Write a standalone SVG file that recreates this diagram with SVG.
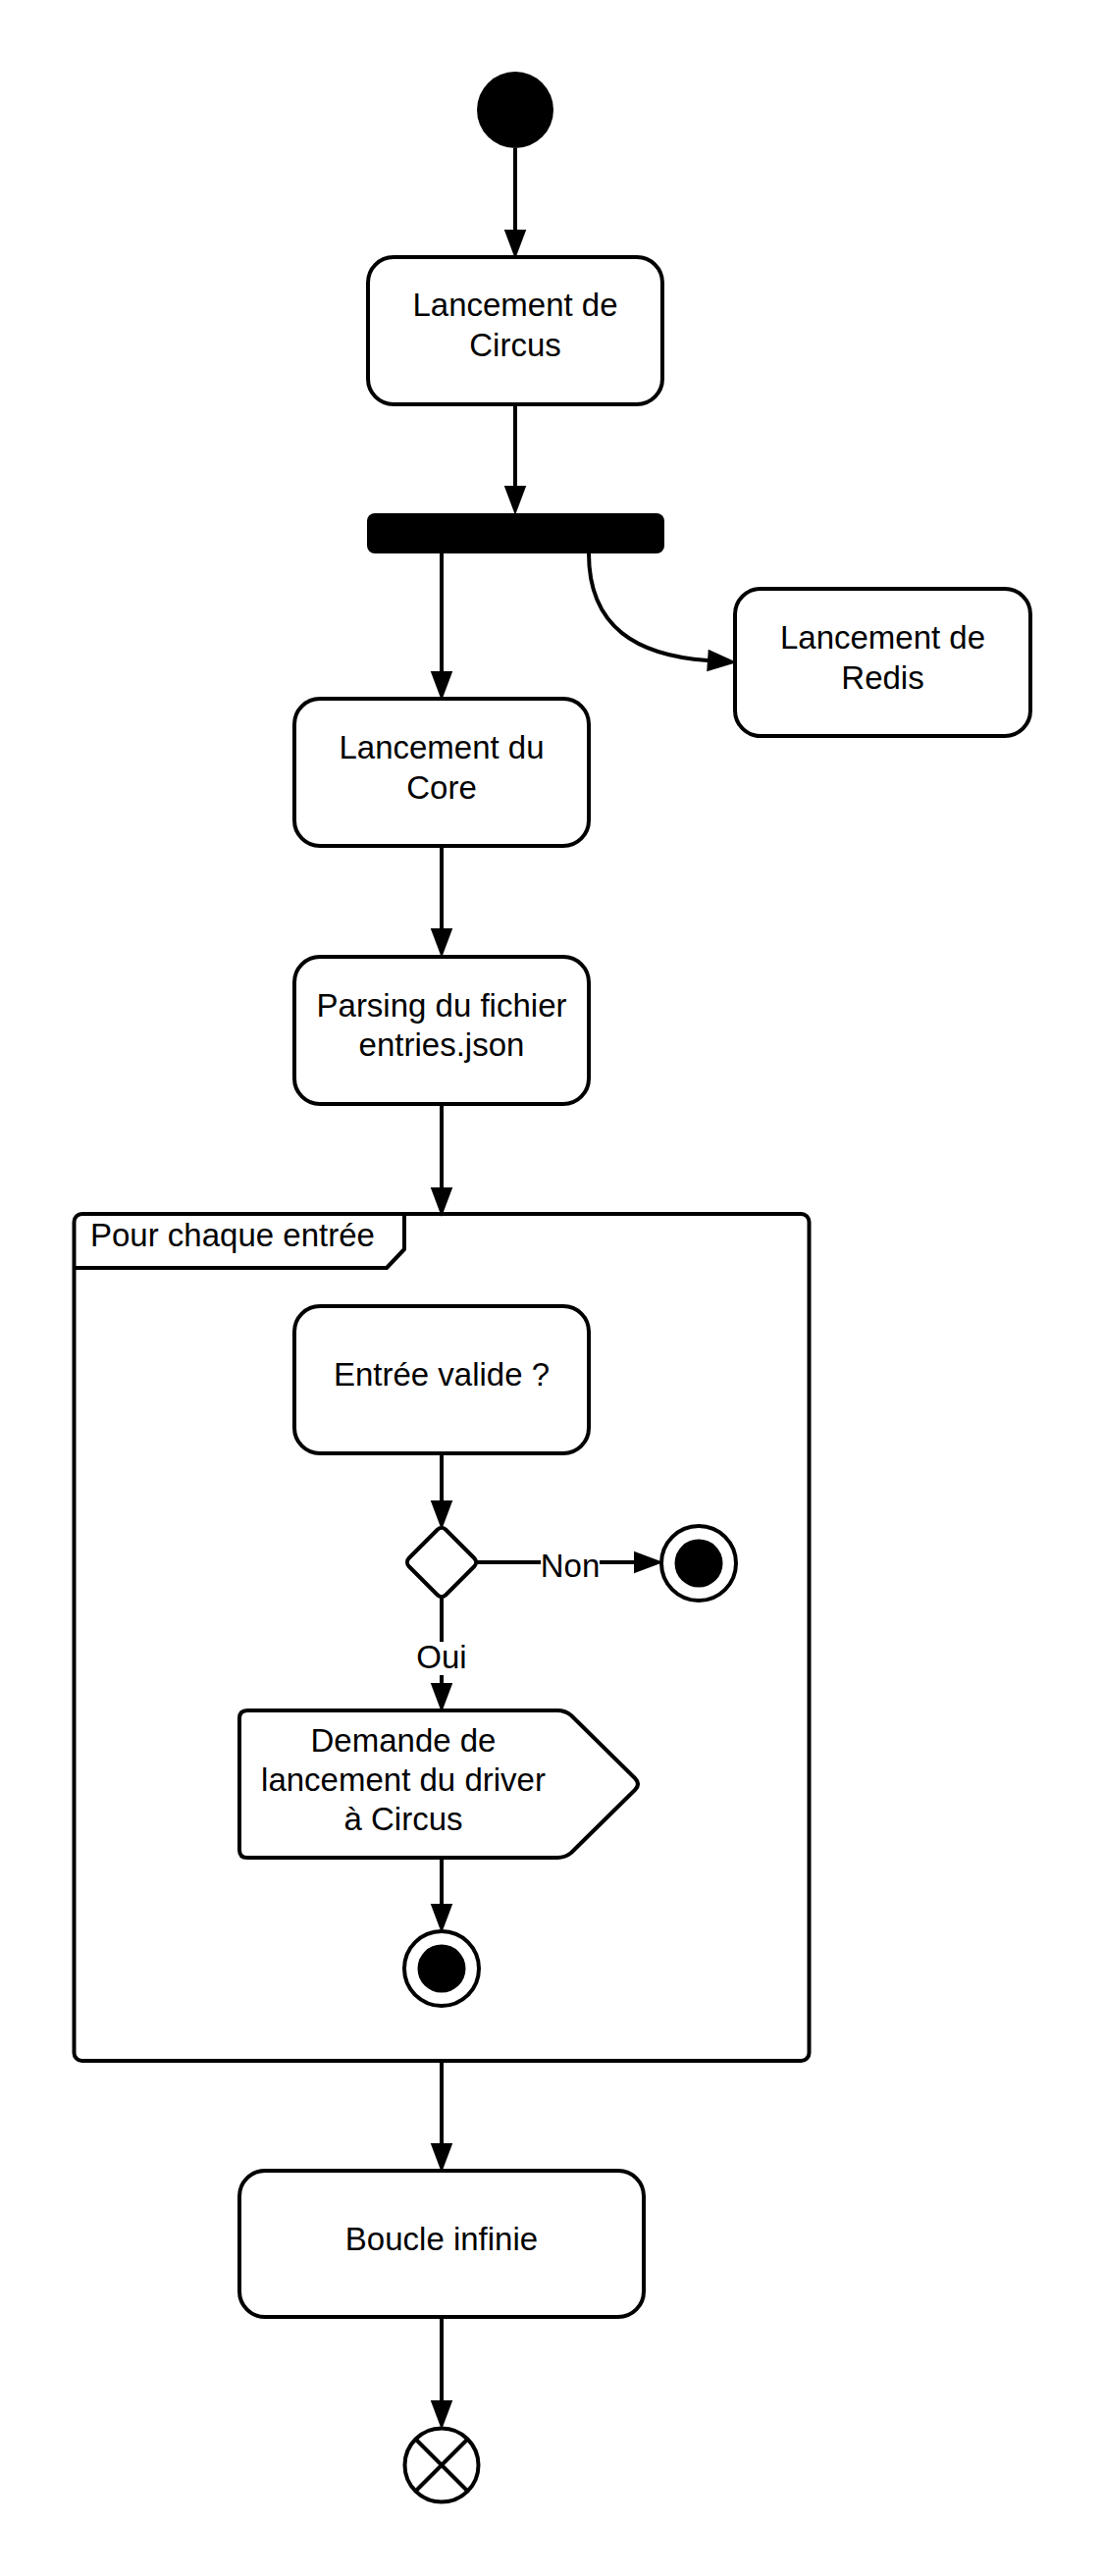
<svg xmlns="http://www.w3.org/2000/svg" width="1125" height="2625" viewBox="0 0 1125 2625">
<style>
  .box { fill: #ffffff; stroke: #000000; stroke-width: 4; }
  .lbl { font-family: "Liberation Sans", Arial, sans-serif; font-size: 33px; fill: #000000; text-anchor: middle; }
  .lblL { font-family: "Liberation Sans", Arial, sans-serif; font-size: 33px; fill: #000000; }
  .edge { fill: none; stroke: #000000; stroke-width: 4; marker-end: url(#arr); }
  .solid { fill: #000000; }
</style>
<defs>
  <marker id="arr" markerUnits="userSpaceOnUse" markerWidth="30" markerHeight="24" viewBox="0 0 28 22" refX="0" refY="11" orient="auto" overflow="visible">
    <path d="M0,0.5 L28,11 L0,21.5 Z" fill="#000000"/>
  </marker>
</defs>
<rect width="1125" height="2625" fill="#ffffff"/>

<g id="connectors">
  <path class="edge" d="M525,151 L525,234"/>
  <path class="edge" d="M525,412 L525,495"/>
  <path class="edge" d="M450,564 L450,684"/>
  <path class="edge" d="M600,564 C600,640 650,668 721,673"/>
  <path class="edge" d="M450,862 L450,946"/>
  <path class="edge" d="M450,1125 L450,1210"/>
  <path class="edge" d="M450,1481 L450,1529"/>
  <path class="edge" d="M485,1592 L646,1592"/>
  <path class="edge" d="M450,1627 L450,1715"/>
  <path class="edge" d="M450,1893 L450,1940"/>
  <path class="edge" d="M450,2100 L450,2184"/>
  <path class="edge" d="M450,2361 L450,2446"/>
  <rect x="551" y="1578" width="60" height="32" fill="#ffffff"/>
  <text class="lbl" x="581" y="1607">Non</text>
  <rect x="423" y="1673" width="54" height="34" fill="#ffffff"/>
  <text class="lbl" x="450" y="1700">Oui</text>
</g>

<g id="start">
  <circle class="solid" cx="525" cy="112" r="39"/>
</g>

<g id="circus">
  <rect class="box" x="375" y="262" width="300" height="150" rx="26"/>
  <text class="lbl" x="525" y="322">Lancement de</text>
  <text class="lbl" x="525" y="363">Circus</text>
</g>

<g id="fork">
  <rect class="solid" x="374" y="523" width="303" height="41" rx="8"/>
</g>

<g id="redis">
  <rect class="box" x="749" y="600" width="301" height="150" rx="26"/>
  <text class="lbl" x="899.5" y="661">Lancement de</text>
  <text class="lbl" x="899.5" y="702">Redis</text>
</g>

<g id="core">
  <rect class="box" x="300" y="712" width="300" height="150" rx="26"/>
  <text class="lbl" x="450" y="773">Lancement du</text>
  <text class="lbl" x="450" y="814">Core</text>
</g>

<g id="parsing">
  <rect class="box" x="300" y="975" width="300" height="150" rx="26"/>
  <text class="lbl" x="450" y="1036">Parsing du fichier</text>
  <text class="lbl" x="450" y="1076">entries.json</text>
</g>

<g id="frame">
  <rect x="75.5" y="1237" width="749" height="863" rx="8" fill="none" stroke="#000000" stroke-width="4"/>
  <path d="M75.5,1292 L394,1292 L412,1273 L412,1237" fill="none" stroke="#000000" stroke-width="4" stroke-linejoin="round"/>
  <text class="lblL" x="92" y="1270">Pour chaque entrée</text>
</g>

<g id="valide">
  <rect class="box" x="300" y="1331" width="300" height="150" rx="26"/>
  <text class="lbl" x="450" y="1412">Entrée valide ?</text>
</g>

<g id="decision">
  <rect class="box" x="-26.5" y="-26.5" width="53" height="53" rx="6" transform="translate(450,1592) rotate(45)"/>
</g>

<g id="end-non">
  <circle class="box" cx="712" cy="1593" r="38"/>
  <circle class="solid" cx="712" cy="1593" r="24.5"/>
</g>

<g id="signal">
  <path class="box" stroke-linejoin="round" d="M252,1743 L568,1743 Q576,1743 582,1748 L647,1812 Q653,1818 647,1824 L582,1888 Q576,1893 568,1893 L252,1893 Q244,1893 244,1885 L244,1751 Q244,1743 252,1743 Z"/>
  <text class="lbl" x="411" y="1785">Demande de</text>
  <text class="lbl" x="411" y="1825">lancement du driver</text>
  <text class="lbl" x="411" y="1865">à Circus</text>
</g>

<g id="end-oui">
  <circle class="box" cx="450" cy="2006" r="38"/>
  <circle class="solid" cx="450" cy="2006" r="24.5"/>
</g>

<g id="boucle">
  <rect class="box" x="244" y="2212" width="412" height="149" rx="26"/>
  <text class="lbl" x="450" y="2293">Boucle infinie</text>
</g>

<g id="flow-final">
  <circle class="box" cx="450" cy="2512" r="37.5"/>
  <path d="M423.5,2485.5 L476.5,2538.5 M476.5,2485.5 L423.5,2538.5" stroke="#000000" stroke-width="4" fill="none"/>
</g>
</svg>
